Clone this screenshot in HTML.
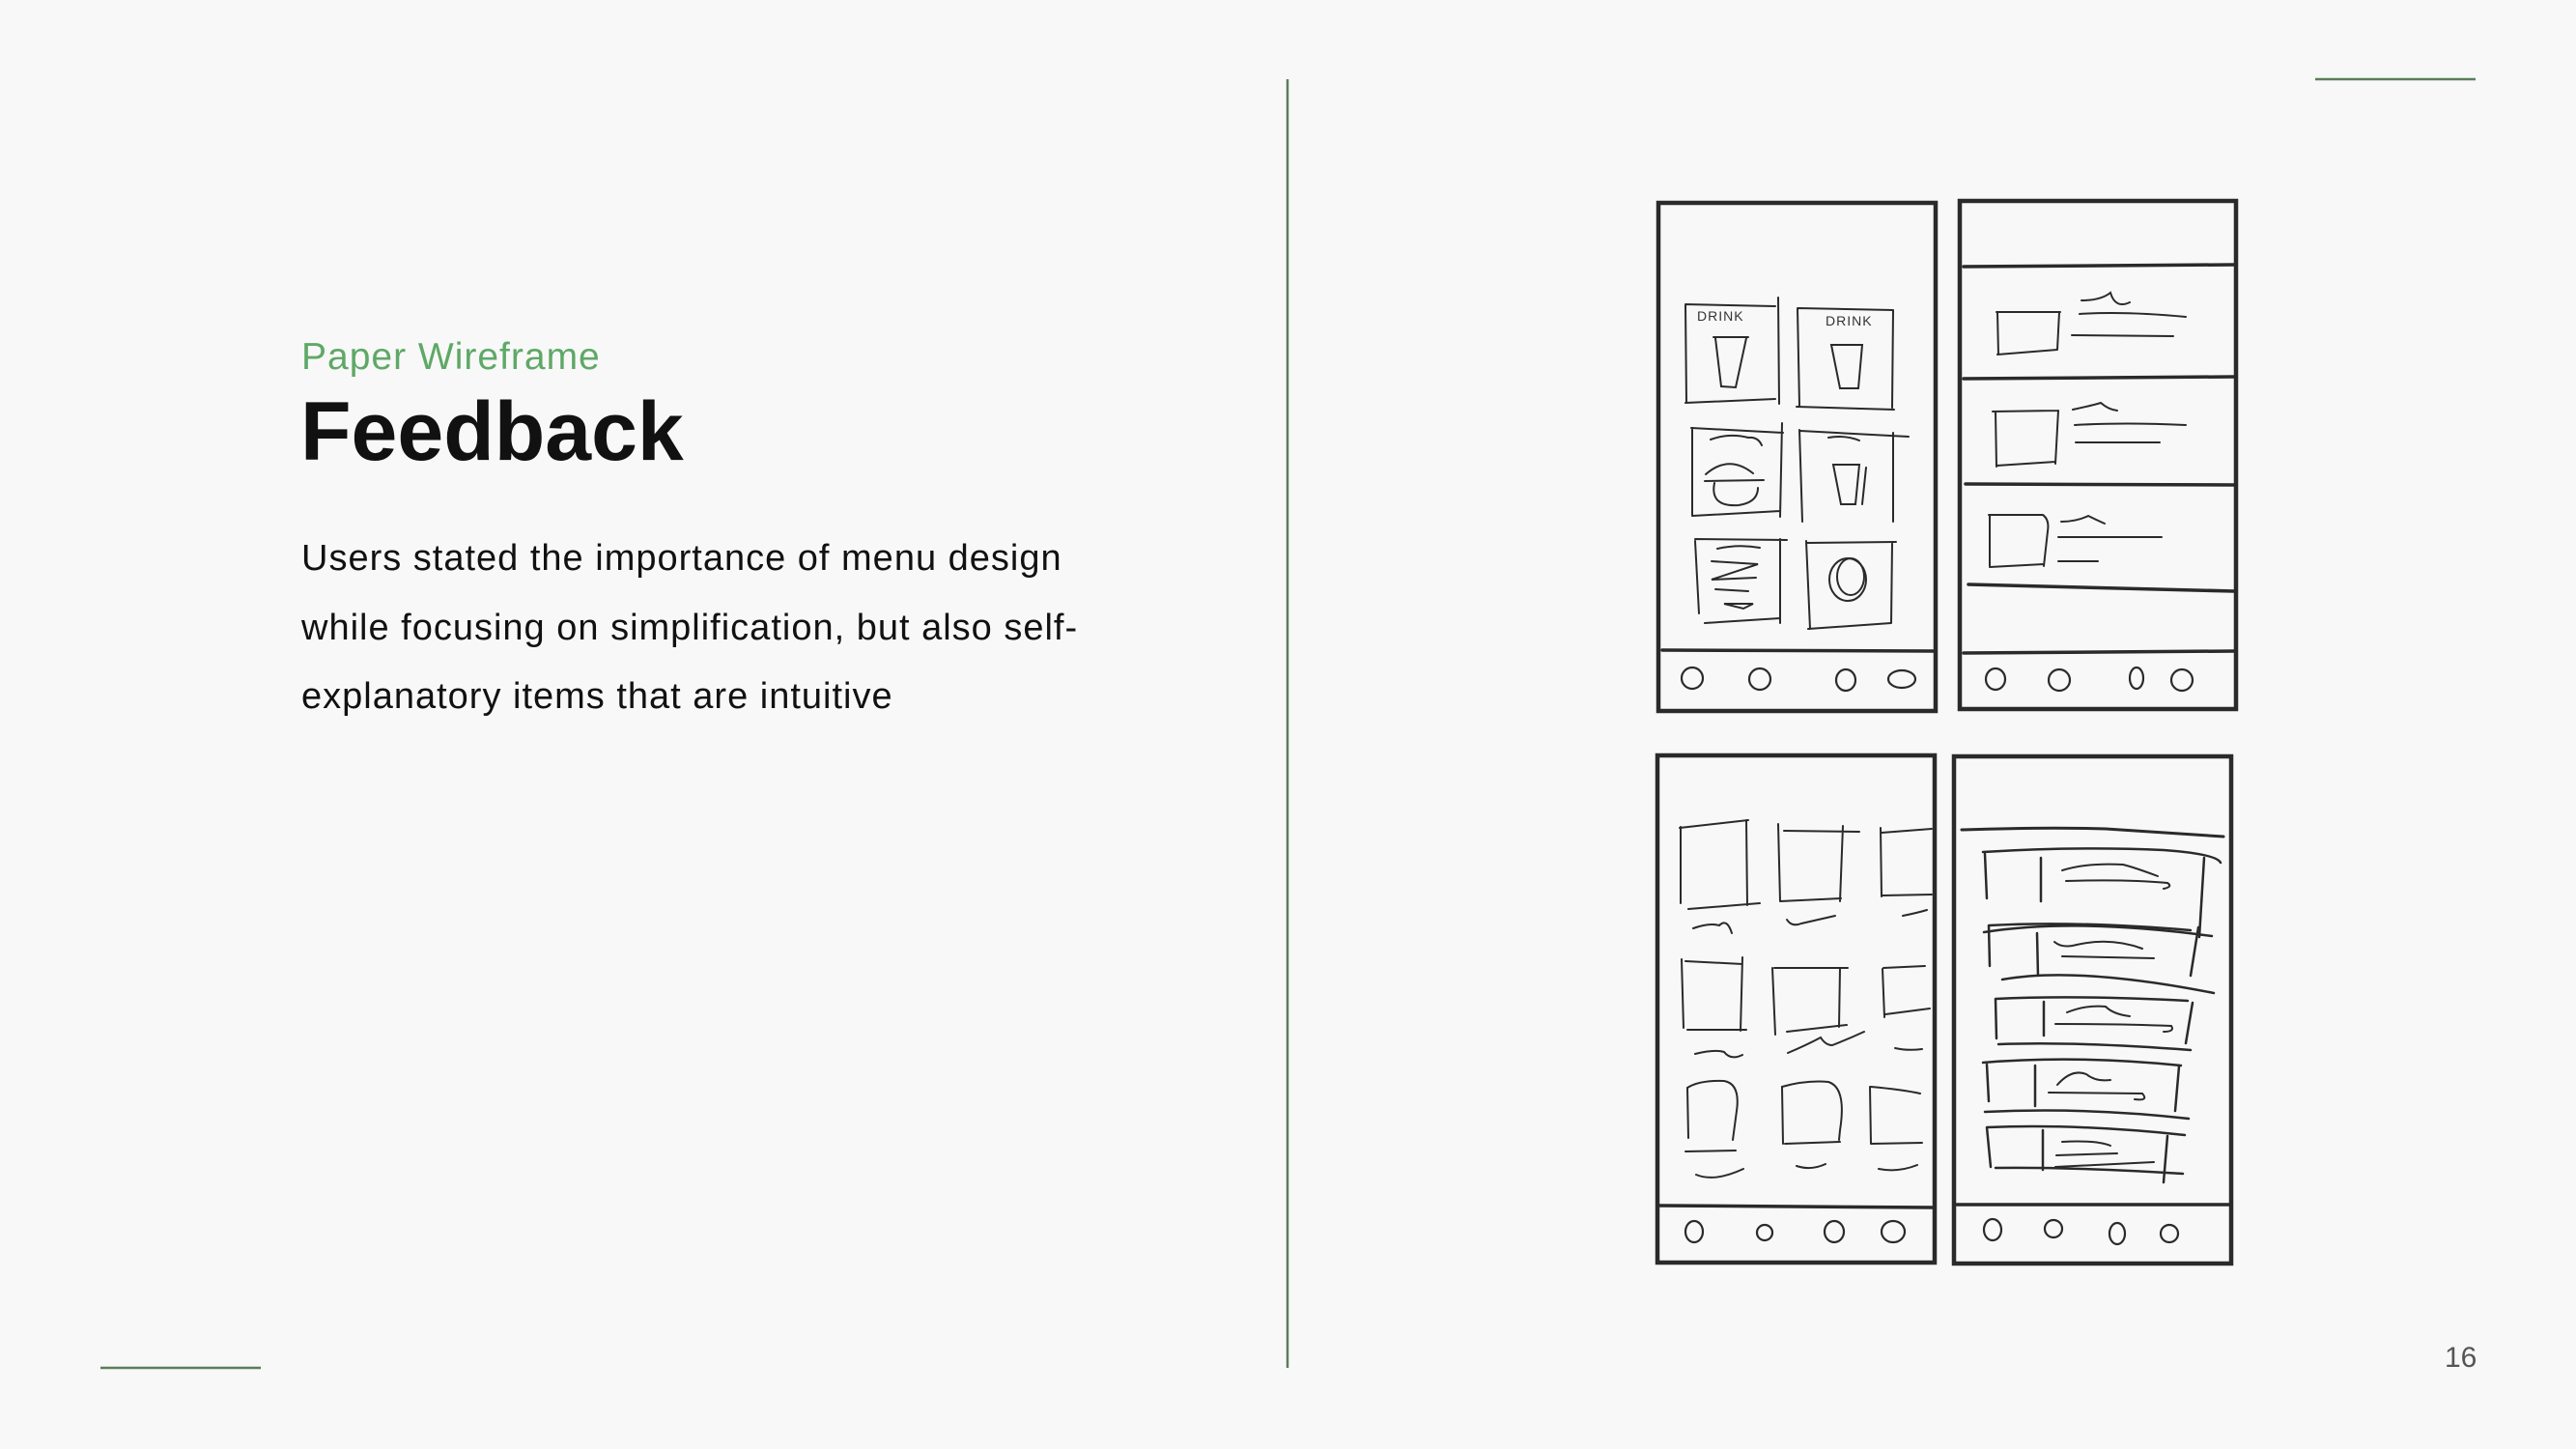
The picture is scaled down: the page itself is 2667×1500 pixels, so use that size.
<!DOCTYPE html>
<html><head><meta charset="utf-8"><style>
html,body{margin:0;padding:0;background:#f8f8f8;}
body{width:2667px;height:1500px;position:relative;overflow:hidden;font-family:"Liberation Sans",sans-serif;}
.t{position:absolute;white-space:nowrap;}
</style></head><body>
<div class="t" style="left:312px;top:345px;font-size:39px;letter-spacing:1px;color:#5fa866;line-height:50px;">Paper Wireframe</div>
<div class="t" style="left:311px;top:392px;font-size:86px;font-weight:bold;color:#111;line-height:110px;letter-spacing:0px;">Feedback</div>
<div class="t" style="left:312px;top:543px;font-size:38px;letter-spacing:1px;color:#111;line-height:71.5px;">Users stated the importance of menu design<br>while focusing on simplification, but also self-<br>explanatory items that are intuitive</div>
<div class="t" style="left:2531px;top:1389px;font-size:30px;color:#555;">16</div>
<svg width="2667" height="1500" style="position:absolute;left:0;top:0">
<g stroke="#5a7d5a" stroke-width="2.5">
<line x1="1333" y1="82" x2="1333" y2="1416"/>
<line x1="2397" y1="82" x2="2563" y2="82"/>
<line x1="104" y1="1416" x2="270" y2="1416"/>
</g>
<text x="1757" y="332" font-family="Liberation Sans" font-size="14" fill="#333" letter-spacing="1">DRINK</text>
<text x="1890" y="337" font-family="Liberation Sans" font-size="14" fill="#333" letter-spacing="1">DRINK</text>
<g fill="none" stroke="#2a2a2a" stroke-linecap="round">
<g stroke-width="4.5">
<rect x="1717" y="210" width="287" height="526"/>
<rect x="2029" y="208" width="286" height="526"/>
<rect x="1716" y="782" width="287" height="525"/>
<rect x="2023" y="783" width="287" height="525"/>
</g>
<g stroke-width="3.5">
<line x1="1721" y1="673" x2="2002" y2="674"/>
<line x1="2033" y1="276" x2="2313" y2="274"/>
<line x1="2033" y1="392" x2="2313" y2="390"/>
<line x1="2035" y1="501" x2="2313" y2="502"/>
<line x1="2038" y1="605" x2="2313" y2="612"/>
<line x1="2033" y1="676" x2="2313" y2="674"/>
<line x1="1718" y1="1248" x2="2001" y2="1250"/>
<line x1="2026" y1="1247" x2="2308" y2="1247"/>
</g>
<g stroke-width="2">
<path d="M1745 315 L1838 317 M1841 308 L1842 418 M1745 316 L1746 416 M1745 417 L1838 413"/>
<path d="M1862 319 L1960 321 M1861 319 L1863 420 M1960 321 L1959 422 M1860 421 L1961 424"/>
<path d="M1751 443 L1846 448 M1845 438 L1843 535 M1752 443 L1752 533 M1752 534 L1843 529"/>
<path d="M1864 446 L1976 452 M1863 445 L1866 540 M1960 448 L1960 540"/>
<path d="M1755 558 L1850 559 M1843 558 L1843 645 M1755 560 L1759 635 M1765 645 L1843 640"/>
<path d="M1870 562 L1963 561 M1870 560 L1874 651 M1959 562 L1958 645 M1872 651 L1958 645"/>
<path d="M1774 349 L1810 349 M1776 350 L1782 400 L1797 401 L1808 350"/>
<path d="M1896 357 L1928 357 L1924 402 L1905 402 Z"/>
<path d="M1771 455 Q1790 448 1810 453 Q1820 452 1824 461"/>
<path d="M1766 491 Q1790 470 1815 490 M1765 498 L1826 497 M1775 500 Q1770 525 1800 523 Q1820 520 1820 505"/>
<path d="M1893 453 Q1910 450 1925 456"/>
<path d="M1898 481 L1925 481 L1921 522 L1906 522 Z M1932 484 L1928 522"/>
<path d="M1778 568 Q1800 563 1822 567"/>
<path d="M1772 581 L1820 584 L1772 600 L1818 598 M1776 610 L1810 612 M1785 625 L1815 625 L1805 630 Z"/>
<ellipse cx="1913" cy="600" rx="19" ry="22"/><ellipse cx="1916" cy="597" rx="14" ry="19"/>
<path d="M2067 323 L2133 323 M2068 323 L2069 367 M2132 323 L2130 362 M2068 367 L2130 362"/>
<path d="M2155 311 Q2175 311 2185 303 Q2190 320 2205 313 M2153 325 Q2200 322 2263 328 M2145 347 L2250 348"/>
<path d="M2063 426 L2131 425 M2066 426 L2067 483 M2131 425 L2128 480 M2067 482 L2128 478"/>
<path d="M2146 424 Q2165 420 2175 417 Q2183 424 2192 425 M2148 440 Q2200 437 2263 440 M2149 458 L2236 458"/>
<path d="M2059 533 L2115 533 Q2122 538 2120 550 L2116 586 M2060 533 L2060 586 M2060 587 L2116 584"/>
<path d="M2134 540 Q2150 540 2162 534 Q2170 538 2179 542 M2131 556 L2238 556 M2131 581 L2172 581"/>
<path d="M1739 857 L1810 849 M1740 856 L1740 935 M1808 849 L1809 937 M1748 941 L1822 935"/>
<path d="M1841 853 L1843 933 M1847 860 L1925 861 M1908 855 L1905 933 M1843 933 L1906 930"/>
<path d="M1947 857 L1948 928 M1948 862 L2000 858 M1949 927 L2000 926"/>
<path d="M1753 961 Q1770 955 1780 958 Q1788 950 1793 966"/>
<path d="M1850 952 Q1855 960 1865 956 L1900 948"/>
<path d="M1970 948 Q1985 945 1995 942"/>
<path d="M1741 993 L1743 1064 M1745 995 L1804 998 M1804 991 L1802 1067 M1747 1066 L1808 1066"/>
<path d="M1835 1002 L1838 1071 M1837 1002 L1913 1002 M1905 1002 L1904 1063 M1850 1068 L1912 1061"/>
<path d="M1949 1003 L1951 1053 M1950 1002 L1993 1000 M1952 1050 L1998 1044"/>
<path d="M1755 1091 Q1775 1086 1785 1089 Q1792 1098 1804 1092"/>
<path d="M1851 1090 Q1870 1082 1885 1074 Q1890 1082 1897 1082 Q1915 1075 1930 1068"/>
<path d="M1962 1085 Q1975 1088 1990 1086"/>
<path d="M1748 1178 L1747 1126 Q1760 1118 1785 1119 Q1802 1122 1798 1150 L1794 1180"/>
<path d="M1846 1184 L1845 1125 Q1870 1118 1893 1120 Q1912 1126 1905 1170 L1904 1180 M1848 1184 L1905 1182"/>
<path d="M1936 1125 L1937 1184 M1937 1125 Q1970 1128 1988 1132 M1937 1184 L1990 1183"/>
<path d="M1745 1192 L1797 1191 M1756 1216 Q1775 1224 1805 1210 M1860 1207 Q1875 1212 1890 1205 M1945 1210 Q1965 1214 1985 1206"/>
<path d="M2031 859 Q2120 856 2180 858 L2302 866" stroke-width="3"/>
<path d="M2053 882 Q2150 876 2240 880 Q2295 884 2299 893 M2055 884 L2057 930 M2113 888 L2113 933 M2282 888 L2277 970 M2054 965 Q2150 950 2290 969" stroke-width="2.5"/>
<path d="M2135 901 Q2160 893 2198 895 Q2210 898 2234 907 M2139 912 Q2200 910 2244 914 Q2250 918 2240 920"/>
<path d="M2059 958 Q2150 953 2268 963 M2059 958 L2060 1000 M2109 966 L2110 1010 M2276 960 L2268 1010 M2073 1014 Q2150 1000 2292 1028" stroke-width="2.5"/>
<path d="M2127 975 Q2135 982 2150 978 Q2185 970 2218 982 M2135 990 L2230 992"/>
<path d="M2066 1034 Q2150 1030 2265 1036 M2066 1034 L2067 1075 M2116 1037 L2116 1072 M2270 1038 L2263 1080 M2069 1081 Q2150 1078 2268 1087" stroke-width="2.5"/>
<path d="M2140 1048 Q2160 1040 2180 1042 Q2188 1050 2205 1052 M2128 1060 Q2200 1060 2248 1062 Q2252 1068 2240 1068"/>
<path d="M2053 1100 Q2150 1092 2258 1103 M2057 1102 L2059 1140 M2107 1103 L2107 1145 M2256 1104 L2252 1150 M2055 1151 Q2160 1146 2266 1158" stroke-width="2.5"/>
<path d="M2130 1123 Q2145 1106 2160 1112 Q2170 1120 2185 1118 M2121 1131 L2218 1132 Q2225 1140 2210 1138"/>
<path d="M2057 1167 Q2150 1163 2262 1175 M2057 1167 L2061 1208 M2115 1170 L2115 1211 M2244 1176 L2240 1224 M2066 1209 Q2150 1208 2260 1215" stroke-width="2.5"/>
<path d="M2135 1182 Q2170 1180 2185 1186 M2129 1196 L2192 1194 M2128 1208 L2230 1203"/>
</g>
<g stroke-width="2.2">
<ellipse cx="1752" cy="702" rx="11" ry="11"/><ellipse cx="1822" cy="703" rx="11" ry="11"/><ellipse cx="1911" cy="704" rx="10" ry="11"/><ellipse cx="1969" cy="703" rx="14" ry="9"/>
<ellipse cx="2066" cy="703" rx="10" ry="11"/><ellipse cx="2132" cy="704" rx="11" ry="11"/><ellipse cx="2212" cy="702" rx="7" ry="11"/><ellipse cx="2259" cy="704" rx="11" ry="11"/>
<ellipse cx="1754" cy="1275" rx="9" ry="11"/><ellipse cx="1827" cy="1276" rx="8" ry="8"/><ellipse cx="1899" cy="1275" rx="10" ry="11"/><ellipse cx="1960" cy="1275" rx="12" ry="11"/>
<ellipse cx="2063" cy="1273" rx="9" ry="11"/><ellipse cx="2126" cy="1272" rx="9" ry="9"/><ellipse cx="2192" cy="1277" rx="8" ry="11"/><ellipse cx="2246" cy="1277" rx="9" ry="9"/>
</g>
</g>
</svg>
</body></html>
